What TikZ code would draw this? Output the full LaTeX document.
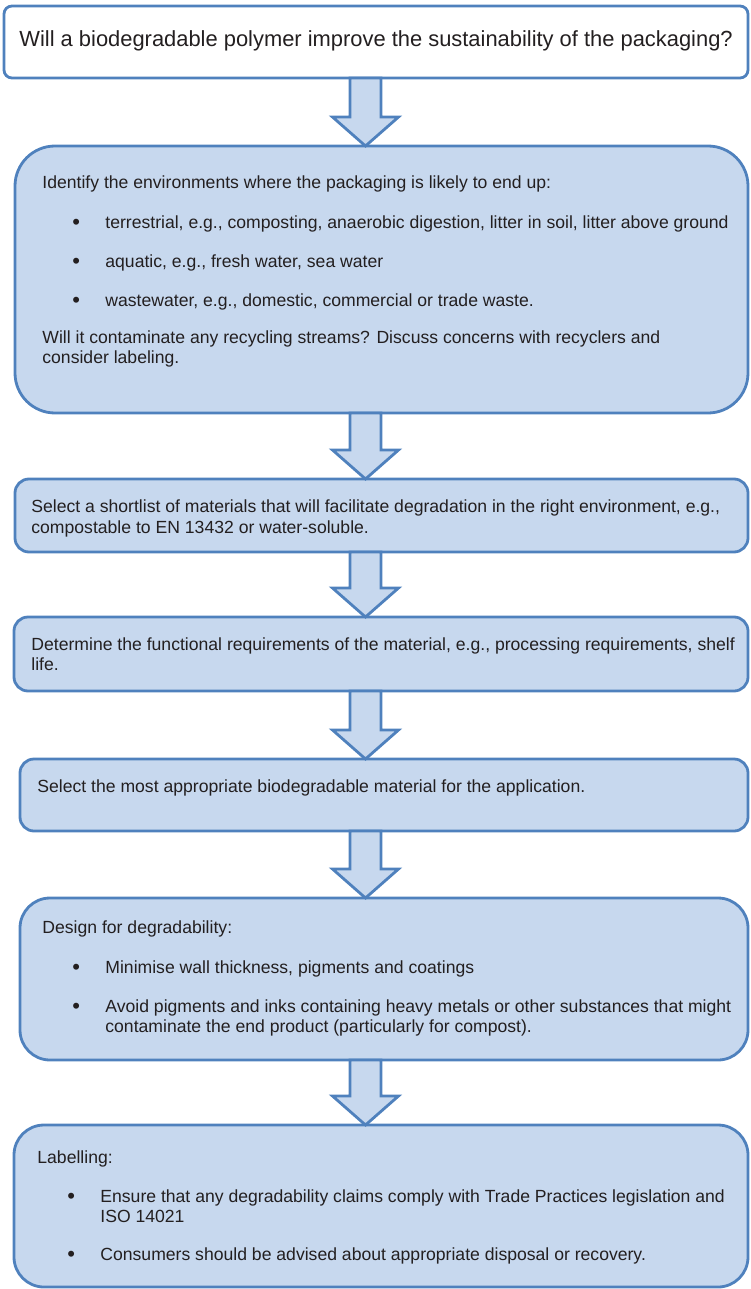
\documentclass[tikz,border=0pt]{standalone}
\usepackage{fontspec}
\setmainfont{Liberation Sans}
\usetikzlibrary{calc}
\definecolor{edgec}{RGB}{79,129,189}
\definecolor{fillc}{RGB}{199,216,238}
\definecolor{txtc}{RGB}{35,31,32}
\begin{document}
\begin{tikzpicture}[x=0.5pt,y=-0.5pt,
  box/.style={draw=edgec,line width=1.4pt,fill=fillc,inner sep=0pt,outer sep=0pt},
  txt/.style={anchor=base west,inner sep=0pt,text=txtc,font=\fontsize{8.8}{10}\selectfont},
  bigtxt/.style={txt,font=\fontsize{10.95}{12}\selectfont},
  dot/.style={txt,font=\fontsize{11}{12}\selectfont,yshift=-0.6pt},
  blockarrow/.style={draw=edgec,line width=1.4pt,fill=fillc,line join=miter}]
\useasboundingbox (0,0) rectangle (750,1289);
\coordinate (axis) at (365.5,0);
% --- boxes ---
\node[box,fill=white,minimum width=372pt,minimum height=36pt,rounded corners=4pt] (b1) at (376,42) {};
\node[box,minimum width=366.5pt,minimum height=133.5pt,rounded corners=20pt] (b2) at (381.5,279.5) {};
\node[box,minimum width=366.5pt,minimum height=36.5pt,rounded corners=7pt] (b3) at (381.5,515.5) {};
\node[box,minimum width=367pt,minimum height=37pt,rounded corners=7pt] (b4) at (381,654) {};
\node[box,minimum width=364pt,minimum height=36pt,rounded corners=7pt] (b5) at (384,795) {};
\node[box,minimum width=364pt,minimum height=81pt,rounded corners=15pt] (b6) at (384,979) {};
\node[box,minimum width=367pt,minimum height=81pt,rounded corners=15pt] (b7) at (381,1206) {};
% --- block arrows ---
\foreach \from/\to in {b1/b2,b2/b3,b3/b4,b4/b5,b5/b6,b6/b7}
  \draw[blockarrow] let \p1=(\from.south -| axis), \p2=(\to.north -| axis) in
    (\x1-7.75pt,\y1) -- (\x1-7.75pt,\y2+14.5pt) -- (\x1-16.5pt,\y2+14.5pt) -- (\x1,\y2)
    -- (\x1+16.5pt,\y2+14.5pt) -- (\x1+7.75pt,\y2+14.5pt) -- (\x1+7.75pt,\y1) -- cycle;
% --- question ---
\node[bigtxt] (q) at (19,47) {Will a biodegradable polymer improve the sustainability of the packaging?};
% --- environments ---
\node[txt] (e0) at (42,189) {Identify the environments where the packaging is likely to end up:};
\node[dot] (e1b) at (72,228) {\textbullet};
\node[txt] (e1) at (105,228) {terrestrial, e.g., composting, anaerobic digestion, litter in soil, litter above ground};
\node[dot] (e2b) at (72,267) {\textbullet};
\node[txt] (e2) at (105,267) {aquatic, e.g., fresh water, sea water};
\node[dot] (e3b) at (72,306) {\textbullet};
\node[txt] (e3) at (105,306) {wastewater, e.g., domestic, commercial or trade waste.};
\node[txt] (e4) at (42,343) {Will it contaminate any recycling streams? Discuss concerns with recyclers and};
\node[txt] (e5) at (42,363) {consider labeling.};
% --- shortlist ---
\node[txt] (s1) at (31,512) {Select a shortlist of materials that will facilitate degradation in the right environment, e.g.,};
\node[txt] (s2) at (31,533) {compostable to EN 13432 or water-soluble.};
% --- requirements ---
\node[txt] (r1) at (31,650) {Determine the functional requirements of the material, e.g., processing requirements, shelf};
\node[txt] (r2) at (31,670) {life.};
% --- selection ---
\node[txt] (m1) at (37,792) {Select the most appropriate biodegradable material for the application.};
% --- design ---
\node[txt] (d0) at (42,933) {Design for degradability:};
\node[dot] (d1b) at (72,973) {\textbullet};
\node[txt] (d1) at (105,973) {Minimise wall thickness, pigments and coatings};
\node[dot] (d2b) at (72,1012) {\textbullet};
\node[txt] (d2) at (105,1012) {Avoid pigments and inks containing heavy metals or other substances that might};
\node[txt] (d3) at (105,1032) {contaminate the end product (particularly for compost).};
% --- labelling ---
\node[txt] (l0) at (37,1163) {Labelling:};
\node[dot] (l1b) at (67,1202) {\textbullet};
\node[txt] (l1) at (100,1202) {Ensure that any degradability claims comply with Trade Practices legislation and};
\node[txt] (l2) at (100,1222) {ISO 14021};
\node[dot] (l3b) at (67,1260) {\textbullet};
\node[txt] (l3) at (100,1260) {Consumers should be advised about appropriate disposal or recovery.};
\end{tikzpicture}
\end{document}
